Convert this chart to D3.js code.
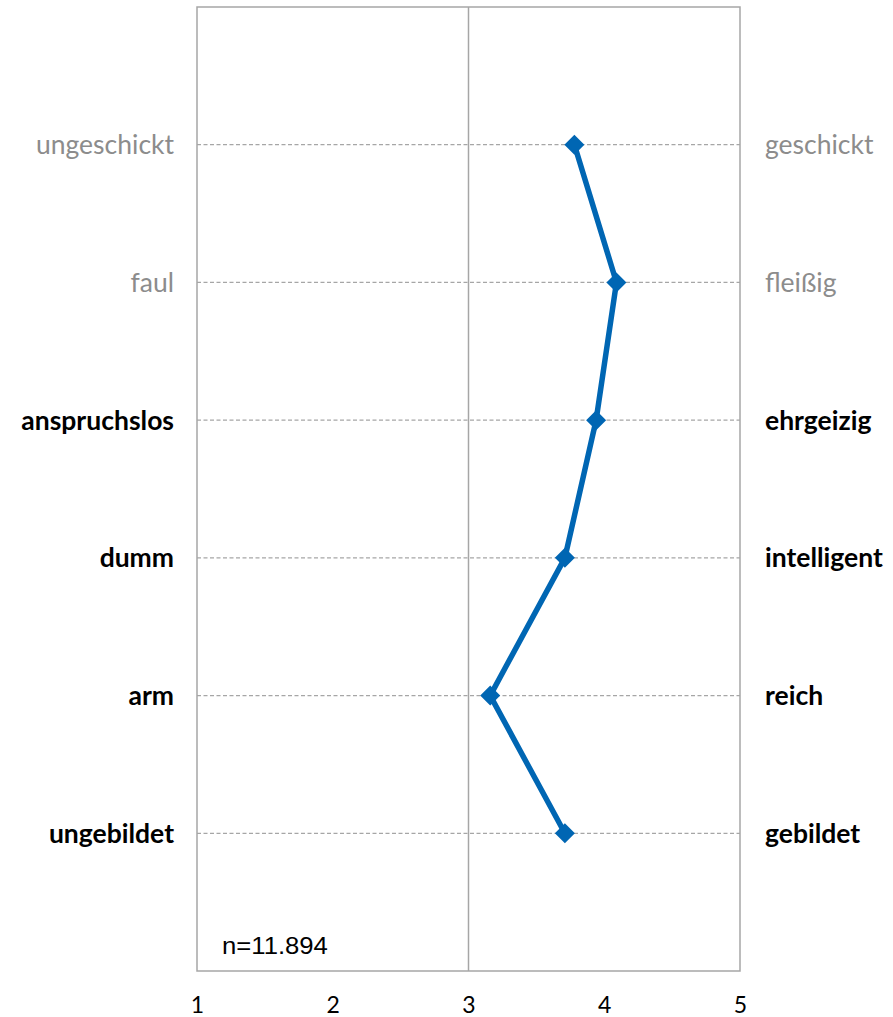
<!DOCTYPE html>
<html><head><meta charset="utf-8">
<script src="https://cdn.jsdelivr.net/npm/d3@7"></script>
<style>body{margin:0;background:#fff}</style>
</head><body>
<script>
const leftLabels = ["ungeschickt","faul","anspruchslos","dumm","arm","ungebildet"];
const rightLabels = ["geschickt","fleißig","ehrgeizig","intelligent","reich","gebildet"];
const values = [3.78, 4.09, 3.94, 3.71, 3.16, 3.71];
const greyed = [true, true, false, false, false, false];
const xTicks = [1,2,3,4,5];
const note = "n=11.894";

const W = 893, H = 1017;
const svg = d3.select("body").append("svg").attr("width", W).attr("height", H);
const x = d3.scaleLinear().domain([1,5]).range([197, 740]);
const y = d3.scaleLinear().domain([0,7]).range([7, 971]);
const font = "Lato, 'Open Sans', sans-serif";

svg.append("rect").attr("x", x(1)).attr("y", y(0)).attr("width", x(5)-x(1)).attr("height", y(7)-y(0))
  .attr("fill","none").attr("stroke","#a6a6a6").attr("stroke-width",1.5);
svg.append("g").selectAll("line").data(values).join("line")
  .attr("x1", x(1)).attr("x2", x(5))
  .attr("y1", (d,i)=>y(i+1)).attr("y2", (d,i)=>y(i+1))
  .attr("stroke","#a6a6a6").attr("stroke-width",1.3).attr("stroke-dasharray","4,2.5");
svg.append("line").attr("x1", x(3)).attr("x2", x(3)).attr("y1", y(0)).attr("y2", y(7))
  .attr("stroke","#a6a6a6").attr("stroke-width",1.5);

const xAxis = d3.axisBottom(x).tickValues(xTicks).tickFormat(d3.format("d")).tickSize(0).tickPadding(0);
const gx = svg.append("g").attr("transform", `translate(0,${y(7)})`).call(xAxis);
gx.select(".domain").remove();
gx.selectAll("text").attr("y", 42).attr("dy", null).attr("font-family", font).attr("font-size", 23).attr("fill","#000");

svg.append("g").selectAll("text").data(leftLabels).join("text")
  .attr("x", 174).attr("y", (d,i)=>y(i+1)).attr("dy","0.36em")
  .attr("text-anchor","end").attr("font-family", font).attr("font-size", 26.5)
  .attr("font-weight", (d,i)=>greyed[i]?"normal":"bold")
  .attr("fill", (d,i)=>greyed[i]?"#8c8c8c":"#000").text(d=>d);
svg.append("g").selectAll("text").data(rightLabels).join("text")
  .attr("x", 765).attr("y", (d,i)=>y(i+1)).attr("dy","0.36em")
  .attr("text-anchor","start").attr("font-family", font).attr("font-size", 26.5)
  .attr("font-weight", (d,i)=>greyed[i]?"normal":"bold")
  .attr("fill", (d,i)=>greyed[i]?"#8c8c8c":"#000").text(d=>d);

const line = d3.line().x(d=>x(d)).y((d,i)=>y(i+1));
svg.append("path").datum(values).attr("d", line).attr("fill","none")
  .attr("stroke","#0066b3").attr("stroke-width",5.5).attr("stroke-linejoin","round");
svg.append("g").selectAll("path").data(values).join("path")
  .attr("d", d3.symbol().type(d3.symbolSquare).size(200))
  .attr("transform", (d,i)=>`translate(${x(d)},${y(i+1)}) rotate(45)`)
  .attr("fill","#0066b3");

svg.append("text").attr("transform", "translate(222,954) scale(1.07,1)")
  .attr("font-family","'Liberation Sans', Arial, sans-serif").attr("font-size", 24)
  .attr("fill","#000").text(note);
</script>
</body></html>
